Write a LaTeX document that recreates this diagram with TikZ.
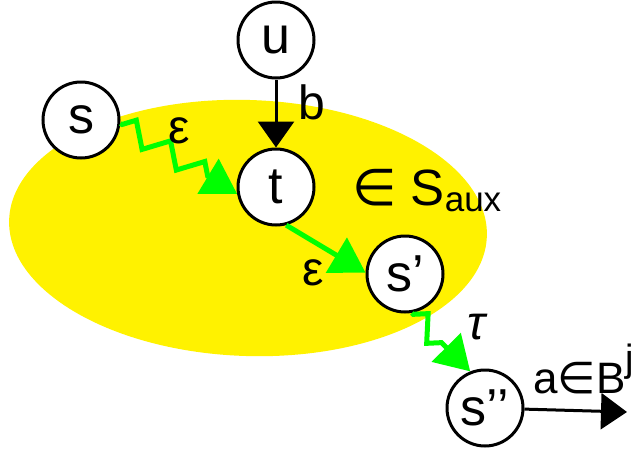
\documentclass[tikz,border=0pt]{standalone}
\usepackage{fontspec}
\setmainfont{Liberation Sans}
\newfontfamily\symbfont{DejaVu Sans}
\usetikzlibrary{arrows.meta,decorations.pathmorphing}

\begin{document}
\begin{tikzpicture}[x=1pt,y=-1pt,
  st/.style={draw,circle,line width=3pt,fill=white,minimum size=76pt,
             inner sep=0pt,font=\fontsize{52}{52}\selectfont},
  lbl/.style={inner sep=0pt,font=\fontsize{48}{48}\selectfont},
  act/.style={line width=3pt,-{Triangle[length=26pt,width=36pt]}},
  epsedge/.style={draw=green,line width=5pt,-{Triangle[length=34pt,width=40pt]}},
  silent/.style={epsedge,decorate,
                 decoration={zigzag,amplitude=11pt,segment length=40pt,
                             pre length=2pt,post length=32pt}}]
  \useasboundingbox (0,0) rectangle (637,453);
  \fill[yellow] (248,228) ellipse [x radius=239,y radius=128,rotate=-2];

  \node[st] (u) at (276,40) {u};
  \node[st] (t) at (276,187) {t};
  \node[st] (s) at (81,120) {s};
  \node[st] (sp) at (405,274) {s’};
  \node[st] (spp) at (485,408) {s’’};
  \coordinate (out) at (627,412);

  \draw[act] (u) -- (t);
  \draw[silent] (s.-5) -- (t.190);
  \draw[epsedge] (t.285) -- (sp.178);
  \draw[silent] (sp.-80) -- (spp.112);
  \draw[act] (spp) -- (out);

  \node[lbl] (lb) at (312,102) {b};
  \node[lbl] (le1) at (179,131) {ε};
  \node[lbl] (le2) at (313,273) {ε};
  \node[lbl] (ltau) at (476,327) {\itshape τ};
  \node[lbl,anchor=base west,font=\fontsize{51}{51}\selectfont] (laux) at (352,205)
    {{\symbfont ∈} S\raisebox{-6pt}{\fontsize{35}{35}\selectfont aux}};
  \node[lbl,anchor=base west,font=\fontsize{44}{44}\selectfont] (la) at (533,393)
    {a{\symbfont ∈}B\raisebox{22pt}{\fontsize{38}{38}\selectfont j}};
\end{tikzpicture}
\end{document}
